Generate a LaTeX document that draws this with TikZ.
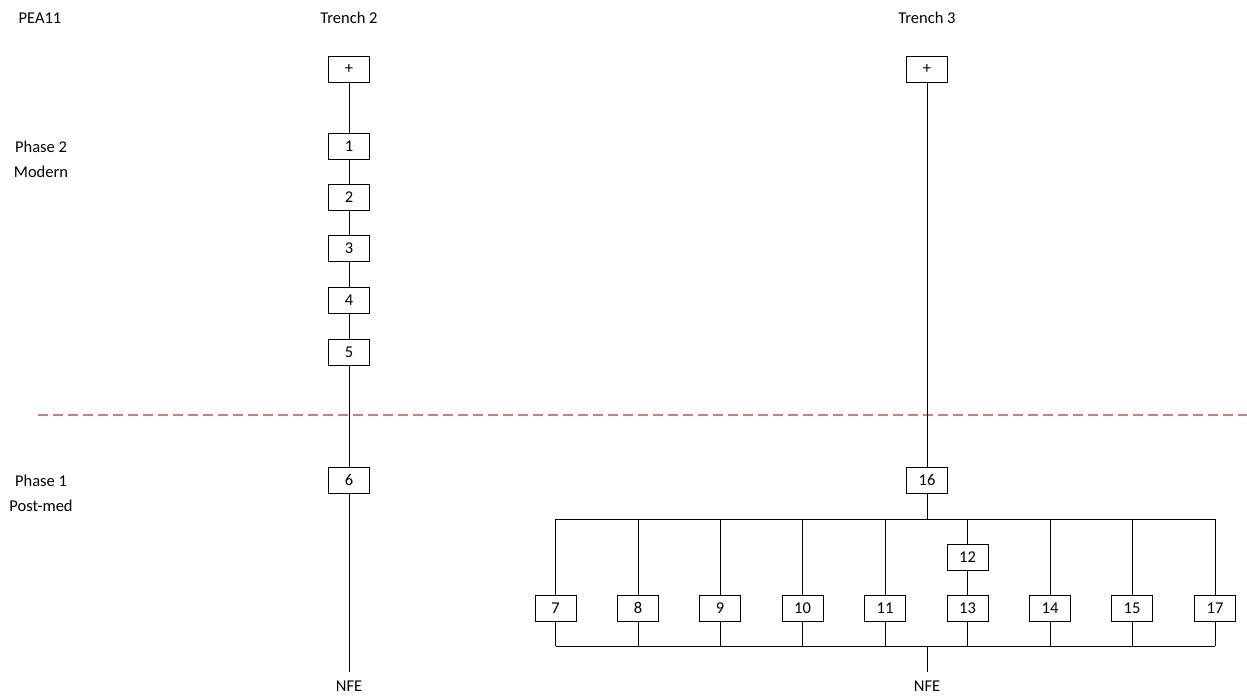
\documentclass[tikz,border=0pt]{standalone}
\usepackage{fontspec}
\setmainfont{Carlito}
\definecolor{phaseline}{RGB}{204,128,122}
\begin{document}
\begin{tikzpicture}[x=1pt,y=-1pt,
  ctx/.style={draw,line width=0.9pt,minimum width=41pt,minimum height=26pt,inner sep=0pt,font=\fontsize{16.5}{20}\selectfont},
  lbl/.style={inner sep=0pt,font=\fontsize{16.5}{25}\selectfont,align=center},
  link/.style={line width=0.9pt}]
\useasboundingbox (0,0) rectangle (1247,698);

% headings
\node[lbl] (site) at (40,18) {PEA11};
\node[lbl] (t2) at (349,18) {Trench 2};
\node[lbl] (t3) at (927,18) {Trench 3};
\node[lbl] (ph2) at (41,159) {Phase 2\\Modern};
\node[lbl] (ph1) at (41,493) {Phase 1\\Post-med};

% phase boundary
\coordinate (divL) at (38,415);
\coordinate (divR) at (1247,415);
\draw[phaseline,line width=1.4pt,dash pattern=on 10pt off 5pt] (divL) -- (divR);

% Trench 2 sequence
\node[ctx] (p2) at (349,69) {+};
\node[ctx] (c1) at (349,146) {1};
\node[ctx] (c2) at (349,197) {2};
\node[ctx] (c3) at (349,248) {3};
\node[ctx] (c4) at (349,300) {4};
\node[ctx] (c5) at (349,352) {5};
\node[ctx] (c6) at (349,480) {6};
\coordinate (e2) at (349,672);
\node[lbl] (nfe2) at (349,686) {NFE};
\draw[link] (p2) -- (c1) -- (c2) -- (c3) -- (c4) -- (c5) -- (c6) -- (e2);

% Trench 3 sequence
\node[ctx] (p3) at (927,69) {+};
\node[ctx] (c16) at (927,480) {16};
\coordinate (top) at (927,519);
\coordinate (bot) at (927,646);
\coordinate (e3) at (927,672);
\node[lbl] (nfe3) at (927,686) {NFE};
\draw[link] (p3) -- (c16) -- (top);

\foreach \n/\x in {7/555.5,8/638,9/720,10/802.5,11/885,13/967.5,14/1050,15/1132,17/1215}
  \node[ctx] (c\n) at (\x,608) {\n};
\node[ctx] (c12) at (967.5,557) {12};

\draw[link] (c7.north |- top) -- (c17.north |- top);
\draw[link] (c7.south |- bot) -- (c17.south |- bot);
\draw[link] (bot) -- (e3);

\foreach \n in {7,8,9,10,11,14,15,17}{
  \draw[link] (c\n.north |- top) -- (c\n.north);
  \draw[link] (c\n.south) -- (c\n.south |- bot);
}
\draw[link] (c12.north |- top) -- (c12.north);
\draw[link] (c12) -- (c13);
\draw[link] (c13.south) -- (c13.south |- bot);
\end{tikzpicture}
\end{document}
